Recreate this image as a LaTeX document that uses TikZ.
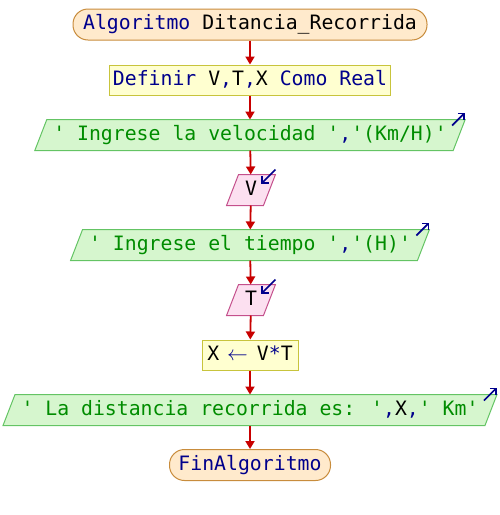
\documentclass[tikz,border=0pt]{standalone}
\usepackage{fontspec}
\usetikzlibrary{arrows.meta,backgrounds}
\newfontfamily\codefont{DejaVu Sans Mono}[Ligatures=TeXOff]

\definecolor{kwblue}{RGB}{0,0,140}
\definecolor{strgreen}{RGB}{0,140,0}
\definecolor{flowred}{RGB}{200,0,0}
\definecolor{termfill}{RGB}{255,234,204}
\definecolor{termline}{RGB}{200,140,60}
\definecolor{procfill}{RGB}{255,255,208}
\definecolor{procline}{RGB}{200,196,60}
\definecolor{outfill}{RGB}{214,246,206}
\definecolor{outline}{RGB}{100,196,100}
\definecolor{infill}{RGB}{252,224,240}
\definecolor{inline}{RGB}{196,80,140}

\newcommand{\kw}[1]{\textcolor{kwblue}{#1}}
\newcommand{\strg}[1]{\textcolor{strgreen}{#1}}

\tikzset{
  base/.style={font=\codefont\fontsize{19.8}{24}\selectfont, line width=1pt,
    text height=14.5, text depth=4, minimum height=30, inner ysep=0},
  term/.style={base, draw=termline, fill=termfill, rounded corners=15, minimum height=31},
  proc/.style={base, draw=procline, fill=procfill, inner xsep=3},
  iobox/.style={base, inner xsep=6},
  outshape/.style={draw=outline, fill=outfill, line width=1pt},
  inshape/.style={draw=inline, fill=infill, line width=1pt},
  flow/.style={draw=flowred, line width=1.8pt, -{Triangle[length=8pt,width=9pt]}},
  ioicon/.style={draw=kwblue, line width=1.7pt, -{Straight Barb[length=4.5pt,width=9pt]}}
}
% parallelogram round a node: top edge shifted right by the slant
\newcommand{\slantbox}[2]{%
  \draw[#2] (#1.north west) -- ([xshift=12]#1.north east) -- (#1.south east)
    -- ([xshift=-12]#1.south west) -- cycle;}

\begin{document}
\begin{tikzpicture}[x=1pt,y=-1pt]
\useasboundingbox (0,0) rectangle (500,515);

\node[term, minimum width=354] (start) at (250,24.5) {\kw{Algoritmo} Ditancia\_Recorrida};
\node[proc, minimum width=281] (def) at (250,80) {\kw{Definir} V\kw{,}T\kw{,}X \kw{Como} \kw{Real}};
\node[iobox] (o1) at (250,135) {\strg{' Ingrese la velocidad '}\kw{,}\strg{'(Km/H)'}};
\node[iobox] (v) at (251,190) {V};
\node[iobox] (o2) at (250,245) {\strg{' Ingrese el tiempo '}\kw{,}\strg{'(H)'}};
\node[iobox] (t) at (251,300) {T};
\node[proc, minimum width=96] (asg) at (250,355) {X\hspace{8pt}\kw{$\leftarrow$}\hspace{9pt}V\kw{*}T};
\node[iobox] (o3) at (250,410) {\strg{' La distancia recorrida es: '}\kw{,}X\kw{,}\strg{' Km'}};
\node[term, minimum width=161] (end) at (250,465) {\kw{FinAlgoritmo}};

\begin{scope}[on background layer]
  \slantbox{o1}{outshape}
  \slantbox{o2}{outshape}
  \slantbox{o3}{outshape}
  \slantbox{v}{inshape}
  \slantbox{t}{inshape}
\end{scope}

\draw[flow] (start) -- (def);
\draw[flow] (def) -- (o1);
\draw[flow] (o1) -- (v);
\draw[flow] (v) -- (o2);
\draw[flow] (o2) -- (t);
\draw[flow] (t) -- (asg);
\draw[flow] (asg) -- (o3);
\draw[flow] (o3) -- (end);

% output markers
\foreach \n in {o1,o2,o3}
  \draw[ioicon] ([shift={(-1,6)}]\n.north east) -- ([shift={(12,-7)}]\n.north east);
% input markers
\foreach \n in {v,t}
  \draw[ioicon] ([shift={(12,-5)}]\n.north east) -- ([shift={(-2,9)}]\n.north east);
\end{tikzpicture}
\end{document}
